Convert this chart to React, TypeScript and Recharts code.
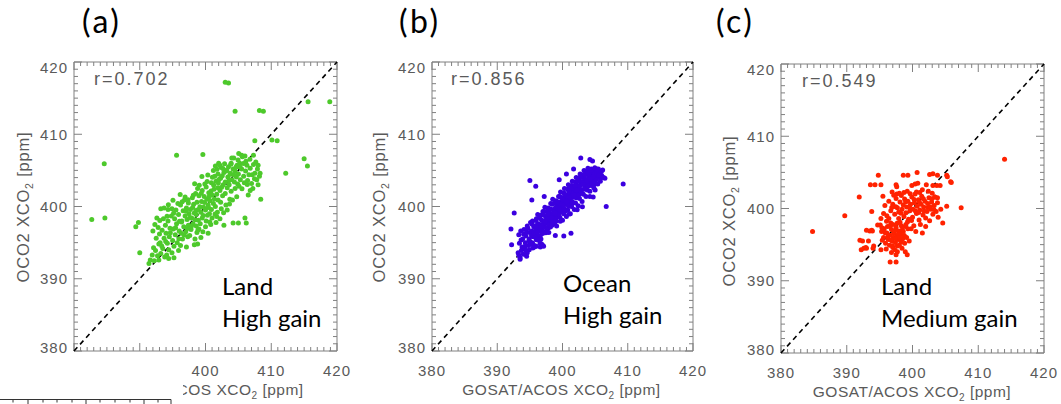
import React from 'react';
import { ScatterChart, Scatter, XAxis, YAxis, ReferenceLine, ReferenceArea } from 'recharts';

type Pt = [number, number];

// (a) Land, high gain  -- [GOSAT/ACOS, OCO2]
const landHigh: Pt[] = [
  [382.7, 398.2], [384.7, 398.4], [384.6, 405.9], [395.6, 407.1], [399.6, 407.2], [403.0, 417.2], [403.5, 417.1],
  [404.5, 413.2], [408.2, 413.3], [408.8, 413.2], [415.6, 414.5], [418.9, 414.5], [407.5, 409.1], [410.1, 409.2],
  [410.9, 409.1], [415.0, 406.6], [415.5, 405.6], [412.2, 404.6], [408.4, 401.0], [404.2, 397.7], [405.0, 397.7],
  [406.0, 398.4], [406.2, 397.7], [406.5, 401.6], [389.4, 397.2], [389.8, 397.8], [390.0, 393.6], [398.8, 394.8],
  [391.4, 392.1],
  [391.6, 392.6], [391.9, 393.3], [392.2, 392.5], [392.4, 393.9], [392.7, 393.2], [392.1, 394.3], [392.9, 394.8],
  [392.5, 395.6], [392.0, 396.6], [392.3, 397.5], [392.8, 397.1], [392.6, 398.4], [393.0, 396.2], [392.9, 392.6],
  [393.2, 393.5], [393.5, 394.2], [393.1, 395.0], [393.7, 395.6], [393.4, 396.7], [393.9, 397.4], [393.6, 398.3],
  [393.2, 399.7], [393.7, 399.8], [394.3, 399.6], [394.9, 399.7], [394.1, 393.3], [394.4, 394.0], [393.8, 393.0],
  [394.2, 394.9], [394.5, 395.8], [394.0, 396.3], [394.6, 397.0], [394.3, 398.0], [394.8, 398.7], [394.4, 392.8],
  [394.9, 393.6], [395.2, 394.5], [395.0, 395.3], [395.4, 396.1], [395.7, 395.0], [395.1, 396.9], [395.6, 397.6],
  [395.3, 398.3], [395.9, 398.9], [395.5, 399.5], [395.8, 400.4], [395.9, 393.9], [396.0, 396.6], [395.2, 392.9],
  [396.2, 394.6], [396.5, 395.5], [396.3, 396.3], [396.7, 397.2], [396.4, 398.0], [396.9, 398.7], [396.6, 399.4],
  [396.2, 400.2], [396.8, 400.9], [397.1, 394.4], [397.3, 395.8], [397.0, 396.5], [397.4, 397.4], [397.2, 398.2],
  [397.5, 399.0], [397.1, 399.8], [397.4, 400.5], [396.9, 401.3], [397.6, 396.0],
  [397.8, 396.8], [398.1, 397.6], [397.9, 398.4], [398.3, 399.1], [397.7, 399.6], [398.2, 400.3], [398.0, 401.2],
  [398.5, 401.8], [398.4, 395.5], [398.7, 396.4], [398.6, 397.3], [398.9, 398.1], [398.6, 398.9], [398.9, 399.6],
  [398.7, 400.6], [399.0, 401.5], [398.8, 402.5], [398.3, 394.7], [399.0, 396.9],
  [399.3, 395.7], [399.2, 397.6], [399.5, 398.4], [399.3, 399.2], [399.7, 399.9], [399.4, 400.7], [399.8, 401.4],
  [399.5, 402.2], [399.9, 403.1], [399.6, 396.5], [400.0, 397.2], [400.1, 398.0], [400.3, 398.8], [400.0, 399.5],
  [400.4, 400.2], [400.2, 401.0], [400.5, 401.9], [400.1, 402.7], [400.4, 396.3], [400.6, 399.0],
  [400.8, 397.5], [401.0, 398.4], [400.9, 399.6], [401.2, 400.4], [400.7, 400.8], [401.0, 401.6], [401.3, 402.4],
  [400.9, 403.3], [401.4, 404.2], [401.2, 405.0], [401.6, 397.8], [401.8, 399.2], [401.5, 400.0], [401.9, 400.9],
  [401.7, 401.7], [401.9, 402.6], [401.6, 403.5], [401.9, 404.5], [401.5, 405.6], [402.0, 406.0], [401.7, 398.6],
  [402.2, 398.3], [402.4, 399.7], [402.3, 400.6], [402.6, 401.5], [402.2, 402.2], [402.7, 403.0], [402.3, 403.9],
  [402.8, 404.7], [402.4, 405.4], [402.9, 405.9], [403.1, 400.2], [403.0, 401.8], [403.3, 402.6], [403.0, 403.4],
  [403.4, 404.1], [403.1, 404.9], [403.5, 405.5], [403.3, 399.5], [402.8, 397.4],
  [403.7, 401.0], [403.9, 402.1], [403.6, 403.0], [404.0, 403.7], [403.8, 404.6], [404.2, 405.2], [403.9, 406.0],
  [404.3, 406.7], [404.5, 402.5], [404.4, 403.4], [404.7, 404.1], [404.5, 404.9], [404.8, 405.7], [404.1, 400.9],
  [404.9, 403.1], [404.0, 406.7],
  [405.1, 402.8], [405.3, 403.7], [405.0, 404.5], [405.5, 405.2], [405.2, 406.0], [405.6, 406.9], [405.8, 404.2],
  [405.9, 403.3], [406.1, 404.9], [406.3, 405.7], [406.0, 407.0], [406.4, 403.6], [405.5, 407.1], [406.6, 404.4],
  [406.8, 405.3], [407.0, 403.2], [407.1, 404.4], [407.3, 405.8], [407.5, 404.6], [407.3, 407.1], [407.8, 403.7],
  [407.9, 405.2], [408.0, 405.7], [408.2, 404.2], [408.3, 404.6], [408.0, 403.0], [406.8, 402.2], [407.2, 402.5],
  [396.35, 397.85], [397.65, 398.45], [398.45, 398.15], [399.15, 399.95], [399.85, 400.55], [400.55, 401.35],
  [401.25, 402.95], [401.95, 403.25], [402.55, 404.25], [403.25, 405.05], [404.65, 405.45], [403.75, 404.45],
  [402.05, 403.75], [400.85, 402.15], [399.35, 401.85], [398.05, 399.85], [397.05, 399.35], [396.05, 397.95],
  [395.45, 397.05], [394.65, 396.35], [393.95, 395.15], [393.35, 394.55], [396.75, 396.05], [397.85, 397.25],
  [398.55, 399.45], [399.65, 398.75], [400.45, 399.85], [401.35, 401.05], [402.45, 402.65], [403.55, 403.55],
  [404.35, 404.35], [405.25, 405.45], [406.15, 406.25], [405.75, 405.95], [404.95, 406.45], [403.85, 405.85],
  [402.65, 405.25], [401.05, 404.05], [400.25, 403.45], [399.05, 402.95], [398.15, 401.55], [397.35, 400.95],
  [396.45, 400.65], [395.15, 399.05], [394.15, 398.65], [393.05, 398.05], [395.95, 395.55], [397.25, 396.95],
  [398.85, 396.75], [400.65, 397.85], [401.45, 398.95], [402.75, 399.15], [403.65, 400.35], [404.75, 401.35],
  [405.55, 402.45], [406.35, 403.05], [407.45, 403.85], [407.65, 406.15], [406.75, 406.55], [405.05, 407.35],
  [401.75, 405.15], [402.15, 405.75], [400.35, 404.35], [399.45, 404.15], [398.35, 403.15], [396.15, 401.65],
  [395.05, 400.85], [394.35, 400.25],
];

// (b) Ocean, high gain
const oceanHigh: Pt[] = [
  [409.3, 403.1], [406.7, 400.0], [395.0, 403.6], [395.9, 402.8], [395.3, 400.9], [392.6, 399.1], [392.1, 396.9],
  [392.2, 394.7], [402.8, 406.7], [404.2, 406.5], [404.6, 406.3], [399.5, 403.7], [404.2, 401.4], [404.7, 401.3],
  [401.3, 396.3], [400.2, 395.9], [395.7, 394.4], [393.5, 392.7], [394.5, 393.1], [396.6, 394.4], [397.0, 394.6],
  [397.2, 401.4], [400.6, 404.5], [401.7, 405.2], [405.0, 402.3], [404.9, 403.1], [406.0, 404.0], [406.5, 403.9],
  [398.9, 396.0], [396.7, 396.7], [396.8, 394.8], [397.1, 394.5],
  [393.2, 393.6], [393.4, 394.9], [393.3, 396.1], [393.7, 393.9], [393.9, 395.5], [393.6, 396.6], [393.8, 394.4],
  [394.2, 394.3], [394.4, 395.9], [394.1, 396.8], [394.3, 395.0], [394.6, 397.3], [393.5, 392.9], [393.3, 393.3],
  [394.0, 393.4], [394.6, 393.6], [396.0, 394.5],
  [394.8, 394.6], [394.9, 395.5], [395.0, 396.4], [394.7, 397.0], [395.1, 397.8], [394.9, 394.0],
  [395.4, 395.0], [395.5, 395.8], [395.3, 396.6], [395.6, 397.2], [395.4, 398.0], [395.7, 394.6], [395.8, 396.2],
  [396.0, 395.4], [396.1, 396.1], [395.9, 396.9], [396.2, 397.6], [396.0, 398.3], [396.3, 395.9], [396.4, 397.1],
  [396.2, 398.9], [396.6, 396.0], [396.7, 396.7], [396.5, 397.5], [396.8, 398.1], [396.6, 398.8], [396.9, 397.0],
  [397.0, 399.3], [396.7, 395.5], [397.2, 396.5], [397.3, 397.2], [397.1, 398.0], [397.4, 398.6], [397.2, 399.3],
  [397.5, 397.7], [397.6, 396.8], [397.3, 399.9], [397.8, 397.0], [397.9, 397.7], [397.7, 398.5], [398.0, 399.1],
  [397.8, 399.8], [398.1, 398.2], [398.2, 400.4], [397.9, 396.4], [398.4, 397.4], [398.5, 398.2], [398.3, 399.0],
  [398.6, 399.6], [398.4, 400.3], [398.7, 398.7], [398.8, 397.6], [398.5, 401.0], [399.0, 398.0], [399.1, 398.7],
  [398.9, 399.5], [399.2, 400.1], [399.0, 400.8], [399.3, 399.2], [399.4, 401.4], [399.1, 397.3], [399.6, 398.5],
  [399.7, 399.2], [399.5, 400.1], [399.8, 400.7], [399.6, 401.4], [399.9, 399.8], [400.0, 398.1], [399.7, 402.0],
  [400.2, 399.0], [400.3, 399.7], [400.1, 400.6], [400.4, 401.2], [400.2, 401.9], [400.5, 400.3], [400.6, 398.6],
  [400.3, 402.5], [400.8, 399.5], [400.9, 400.2], [400.7, 401.1], [401.0, 401.7], [400.8, 402.4], [401.1, 400.8],
  [401.2, 399.0], [400.9, 403.0], [401.4, 400.0], [401.5, 400.7], [401.3, 401.6], [401.6, 402.2], [401.4, 402.9],
  [401.7, 401.3], [401.8, 399.6], [401.5, 403.5], [402.0, 400.5], [402.1, 401.2], [401.9, 402.1], [402.2, 402.7],
  [402.0, 403.4], [402.3, 401.8], [402.4, 400.1], [402.1, 404.0], [402.6, 401.1], [402.7, 401.8], [402.5, 402.7],
  [402.8, 403.2], [402.6, 403.9], [402.9, 402.3], [403.0, 400.7], [402.7, 404.5], [403.2, 401.7], [403.3, 402.4],
  [403.1, 403.2], [403.4, 403.7], [403.2, 404.4], [403.5, 402.9], [403.6, 401.4], [403.3, 405.0], [403.8, 402.3],
  [403.9, 403.0], [403.7, 403.7], [404.0, 404.2], [403.8, 404.9], [404.1, 403.4], [404.2, 402.1], [403.9, 405.3],
  [404.4, 402.9], [404.5, 403.6], [404.3, 404.2], [404.6, 404.7], [404.4, 405.2], [404.7, 403.9], [404.8, 402.6],
  [405.0, 403.5], [405.1, 404.2], [404.9, 404.8], [405.2, 405.1], [405.3, 404.0], [405.4, 403.1], [405.6, 404.0],
  [405.7, 404.7], [405.5, 405.2], [405.8, 403.5], [406.0, 404.3], [406.3, 404.0],
  [394.35, 394.65], [394.85, 395.25], [395.25, 395.95], [395.65, 396.35], [395.95, 397.35], [396.45, 396.65],
  [396.85, 397.45], [397.15, 397.75], [397.55, 398.25], [397.85, 398.65], [398.25, 398.75], [398.65, 399.25],
  [398.95, 399.85], [399.35, 399.75], [399.75, 400.35], [400.05, 400.95], [400.45, 400.75], [400.75, 401.45],
  [401.15, 401.95], [401.55, 401.85], [401.85, 402.45], [402.25, 402.95], [402.55, 402.35], [402.95, 403.45],
  [403.35, 403.95], [403.65, 403.25], [404.05, 404.55], [404.45, 404.05], [404.85, 404.45], [405.25, 404.65],
  [395.15, 394.85], [395.85, 395.75], [396.35, 395.35], [396.95, 396.25], [397.45, 396.35], [397.95, 397.45],
  [398.45, 397.85], [398.95, 398.35], [399.45, 398.95], [399.95, 399.45], [400.45, 399.35], [400.95, 400.05],
  [401.45, 400.45], [401.95, 401.35], [402.45, 401.55], [402.85, 402.05], [403.45, 402.65], [403.95, 402.85],
  [404.55, 403.25], [405.15, 403.75], [395.35, 397.55], [395.95, 398.05], [396.55, 398.45], [397.05, 398.85],
  [397.65, 399.35], [398.15, 399.65], [398.75, 400.45], [399.25, 400.65], [399.85, 401.25], [400.35, 401.65],
  [400.95, 402.05], [401.35, 402.55], [401.95, 402.95], [402.35, 403.55], [402.85, 404.15], [403.45, 404.45],
  [403.95, 404.75], [404.35, 405.05], [404.95, 405.35], [405.45, 405.05], [396.15, 396.45], [396.75, 397.25],
  [397.35, 397.95], [397.75, 398.95], [398.35, 398.45], [398.85, 399.05], [399.55, 399.55], [400.15, 400.15],
  [400.65, 400.65], [401.25, 401.25], [401.75, 401.55], [402.15, 402.25], [402.65, 402.85], [403.15, 403.05],
  [403.75, 403.65], [404.25, 403.85], [404.75, 404.15], [405.55, 404.35], [405.95, 404.85], [406.15, 405.05],
  [393.95, 394.25], [394.45, 393.85], [393.65, 395.35], [394.05, 396.15], [394.55, 396.45], [395.45, 394.25],
  [396.55, 394.95], [398.15, 397.15], [399.65, 397.95], [401.05, 398.95], [402.25, 399.55], [403.05, 399.95],
];

// (c) Land, medium gain
const landMedium: Pt[] = [
  [384.8, 396.8], [389.7, 399.0], [391.9, 401.6], [394.8, 404.6], [393.6, 403.3], [394.3, 403.3], [395.2, 403.3],
  [397.5, 403.3], [397.6, 403.0], [398.6, 404.6], [399.3, 404.6], [400.7, 405.0], [402.6, 404.7], [403.1, 404.8],
  [403.8, 404.6], [405.2, 404.6], [405.3, 404.4], [405.8, 403.7], [405.9, 403.6], [403.1, 403.2], [403.7, 403.2],
  [404.2, 403.2], [399.9, 403.2], [400.4, 403.4], [397.6, 402.0], [398.7, 402.2], [400.6, 402.3], [401.1, 402.2],
  [403.4, 401.6], [403.8, 401.5], [405.2, 400.3], [404.6, 398.0], [407.4, 400.1], [414.0, 406.8], [393.8, 399.6],
  [393.5, 396.9], [393.9, 396.9], [394.7, 397.7], [395.1, 397.7], [392.4, 395.5], [393.3, 395.5], [392.6, 394.5],
  [393.0, 394.5], [395.2, 394.3], [394.1, 394.8], [396.6, 392.6], [397.5, 392.6], [397.7, 394.0], [398.9, 394.0],
  [399.2, 393.6], [392.0, 395.6], [392.2, 394.3], [392.9, 394.6], [394.0, 394.5], [393.0, 397.0], [393.8, 397.0],
  [395.6, 396.0], [395.9, 395.2], [396.1, 396.6], [396.3, 395.7], [396.5, 394.9], [396.6, 396.3], [396.8, 397.1],
  [396.9, 395.5], [397.1, 396.0], [397.2, 396.8], [397.4, 395.3], [397.5, 397.4], [397.6, 396.2], [397.8, 395.7],
  [397.9, 396.9], [398.0, 394.9], [398.2, 396.4], [398.3, 397.6], [398.5, 395.8], [398.6, 396.8], [398.8, 395.2],
  [396.2, 397.5], [396.7, 398.0], [397.0, 394.6], [397.3, 394.3], [397.7, 394.8], [398.1, 398.1], [398.4, 394.5],
  [398.9, 397.5], [399.1, 396.0], [396.0, 394.4], [395.7, 397.2], [396.4, 398.6], [395.4, 395.6], [395.3, 396.8],
  [397.0, 397.8], [397.9, 398.6], [398.7, 398.9], [399.3, 397.2], [399.5, 395.5], [396.8, 393.9], [397.5, 393.6],
  [395.2, 398.6], [395.6, 399.3], [395.8, 400.4], [396.1, 399.0], [396.4, 401.0], [396.7, 399.7], [397.0, 400.6],
  [397.3, 399.2], [397.5, 401.4], [397.7, 400.1], [397.9, 399.5], [398.1, 400.9], [398.3, 401.8], [398.4, 399.9],
  [398.6, 400.5], [398.8, 401.3], [399.0, 399.4], [399.1, 400.2], [399.3, 401.0], [399.4, 398.5], [399.6, 399.7],
  [399.7, 400.6], [399.9, 401.6], [400.0, 398.8], [400.1, 399.9], [400.3, 400.8], [400.4, 402.0], [400.6, 399.3],
  [400.7, 400.3], [400.9, 401.2], [401.0, 398.4], [401.1, 399.8], [401.3, 400.6], [401.4, 401.7], [401.6, 399.1],
  [401.7, 400.2], [401.9, 401.0], [402.0, 398.7], [402.2, 399.6], [402.3, 400.7], [402.5, 401.5], [402.6, 398.3],
  [402.8, 399.9], [402.9, 400.9], [403.1, 399.2], [403.3, 400.4], [403.4, 401.6], [403.6, 399.6], [403.8, 400.8],
  [402.4, 402.4], [401.5, 402.6], [403.0, 402.1], [399.2, 402.4], [398.0, 402.1], [400.2, 397.6], [401.2, 397.8],
  [399.8, 397.2], [402.0, 397.5], [403.9, 398.8], [404.3, 399.9], [395.5, 401.7], [396.9, 402.3], [400.8, 403.5],
  [402.1, 403.3], [399.0, 397.8], [400.5, 396.8], [401.5, 396.6],
  [396.25, 396.05], [396.75, 395.65], [397.15, 396.55], [397.45, 395.85], [397.85, 396.45], [398.25, 395.35],
  [398.45, 397.05], [397.65, 397.95], [396.55, 397.55], [396.95, 394.85], [397.35, 396.95], [398.05, 395.95],
  [398.75, 396.25], [399.25, 398.15], [399.85, 398.35], [400.45, 399.65], [401.05, 400.85], [401.75, 399.65],
  [402.35, 400.15], [402.95, 401.35], [400.25, 401.25], [399.55, 400.25], [398.95, 400.95], [398.25, 399.35],
  [397.45, 400.25], [396.85, 400.15], [400.95, 399.45], [401.65, 401.35], [402.65, 400.25], [403.25, 399.85],
  [399.65, 402.05], [397.15, 401.85], [396.05, 398.25], [395.85, 396.65], [395.35, 397.35],
];

const TICKS = Array.from({ length: 41 }, (_, i) => 380 + i);
const LO = 380;
const HI = 420;
const DOMAIN: [number, number] = [LO, HI];

const AXIS = '#808080';
const TXT = '#5a5a5a';
const IDL = '"Liberation Sans", Arial, sans-serif';
const OFFICE = 'Lato, "Open Sans", sans-serif';

const isMajor = (v: number) => v % 10 === 0;

const BottomLabel = (p: any) => {
  const v = p.payload.value;
  if (!isMajor(v)) return <g />;
  return (
    <text x={p.x} y={p.y + 24.5} textAnchor="middle" fill={TXT} fontSize={15} fontFamily={IDL} letterSpacing={1}>
      {v}
    </text>
  );
};
const LeftLabel = (p: any) => {
  const v = p.payload.value;
  if (!isMajor(v)) return <g />;
  // end labels sit a little inside the frame, as in the original plot
  const shift = v === HI ? 5.5 : v === LO ? -4 : 0;
  return (
    <text x={p.x - 6} y={p.y + 5.5 + shift} textAnchor="end" fill={TXT} fontSize={15} fontFamily={IDL} letterSpacing={1}>
      {v}
    </text>
  );
};

type PanelProps = {
  pts: Pt[];
  color: string;
  left: number;
  width: number;
  top: number;
  right: number;
  yw: number;
  xh: number;
};

const Panel = ({ pts, color, left, width, top, right, yw, xh }: PanelProps) => {
  const rows = pts.map(([x, y]) => ({ x, y }));
  // inward tick length, expressed in data units for this panel's plot size
  const ux = (HI - LO) / (width - yw - right);
  const uy = (HI - LO) / (404 - top - xh);
  const len = (v: number) => (isMajor(v) ? 8 : 4);
  const tickSegs: { x: number; y: number }[][] = [];
  TICKS.forEach((v) => {
    tickSegs.push([{ x: v, y: LO }, { x: v, y: LO + len(v) * uy }]);
    tickSegs.push([{ x: v, y: HI }, { x: v, y: HI - len(v) * uy }]);
    tickSegs.push([{ x: LO, y: v }, { x: LO + len(v) * ux, y: v }]);
    tickSegs.push([{ x: HI, y: v }, { x: HI - len(v) * ux, y: v }]);
  });
  return (
    <div style={{ position: 'absolute', left, top: 0, width, height: 404 }}>
      <ScatterChart width={width} height={404} margin={{ top, right, left: 0, bottom: 0 }}>
        <XAxis xAxisId="b" orientation="bottom" type="number" dataKey="x" domain={DOMAIN} ticks={TICKS} interval={0}
          height={xh} tickSize={0} tickMargin={0} tickLine={false} axisLine={false} tick={BottomLabel} allowDataOverflow />
        <YAxis yAxisId="l" orientation="left" type="number" dataKey="y" domain={DOMAIN} ticks={TICKS} interval={0}
          width={yw} tickSize={0} tickMargin={0} tickLine={false} axisLine={false} tick={LeftLabel} allowDataOverflow />
        <ReferenceArea xAxisId="b" yAxisId="l" x1={LO} x2={HI} y1={LO} y2={HI}
          fill="none" fillOpacity={0} stroke={AXIS} strokeWidth={1} ifOverflow="visible" />
        {tickSegs.map((seg, i) => (
          <ReferenceLine key={i} xAxisId="b" yAxisId="l" segment={seg} stroke={AXIS} strokeWidth={1} ifOverflow="visible" />
        ))}
        <Scatter xAxisId="b" yAxisId="l" data={rows} isAnimationActive={false}
          shape={(s: any) => <circle cx={s.cx} cy={s.cy} r={2.5} fill={color} />} />
        <ReferenceLine xAxisId="b" yAxisId="l" segment={[{ x: LO, y: LO }, { x: HI, y: HI }]}
          stroke="#000" strokeWidth={1.6} strokeDasharray="5 4" />
      </ScatterChart>
    </div>
  );
};

const XTitle = ({ x, y }: { x: number; y: number }) => (
  <text x={x} y={y} textAnchor="middle" fill={TXT} fontSize={15.5} fontFamily={IDL} letterSpacing={0.5}>
    GOSAT/ACOS XCO<tspan fontSize={10} dy={4}>2</tspan><tspan dy={-4}> [ppm]</tspan>
  </text>
);
const YTitle = ({ x, y }: { x: number; y: number }) => (
  <text x={x} y={y} transform={`rotate(-90 ${x} ${y})`} textAnchor="middle" fill={TXT} fontSize={16.5} fontFamily={IDL} letterSpacing={0.8}>
    OCO2 XCO<tspan fontSize={10.5} dy={4}>2</tspan><tspan dy={-4}> [ppm]</tspan>
  </text>
);
const Note = ({ x, y, lines }: { x: number; y: number; lines: string[] }) => (
  <text x={x} y={y} fill="#000" fontSize={24} fontFamily={OFFICE}>
    {lines.map((l, i) => (
      <tspan key={i} x={x} dy={i === 0 ? 0 : 32}>{l}</tspan>
    ))}
  </text>
);

const rulerTicks = [13, 28, 43, 57, 72, 86, 100, 115, 130, 144, 158];

export default function App() {
  return (
    <div style={{ position: 'absolute', left: 0, top: 0, width: 1061, height: 404, background: '#fff', overflow: 'hidden' }}>
      <Panel pts={landHigh} color="#4dc92b" left={0} width={360} top={62} right={23} yw={74} xh={53} />
      <Panel pts={oceanHigh} color="#3b00e0" left={360} width={360} top={62} right={27} yw={72} xh={53} />
      <Panel pts={landMedium} color="#ff2200" left={700} width={361} top={64} right={17} yw={81} xh={51} />
      <svg width={1061} height={404} style={{ position: 'absolute', left: 0, top: 0, pointerEvents: 'none' }}>
        <text x={82} y={33} fontSize={32} fontFamily={OFFICE} fill="#000" letterSpacing={2.5}>(a)</text>
        <text x={399} y={33} fontSize={32} fontFamily={OFFICE} fill="#000" letterSpacing={2.5}>(b)</text>
        <text x={716} y={33} fontSize={32} fontFamily={OFFICE} fill="#000" letterSpacing={2.5}>(c)</text>

        <text x={94} y={84.5} fontSize={18} fontFamily={IDL} fill={TXT} letterSpacing={2}>r=0.702</text>
        <text x={451} y={84.5} fontSize={18} fontFamily={IDL} fill={TXT} letterSpacing={2}>r=0.856</text>
        <text x={802} y={86.5} fontSize={18} fontFamily={IDL} fill={TXT} letterSpacing={2}>r=0.549</text>

        <Note x={222} y={295} lines={['Land', 'High gain']} />
        <Note x={563} y={292} lines={['Ocean', 'High gain']} />
        <Note x={881} y={295} lines={['Land', 'Medium gain']} />

        <YTitle x={28.5} y={207} />
        <YTitle x={384.5} y={207} />
        <YTitle x={734.5} y={211} />
        <XTitle x={204.5} y={395} />
        <XTitle x={561.5} y={395} />
        <XTitle x={912} y={397} />

        {/* panel (a) is partly covered by a fragment of another figure */}
        <rect x={0} y={355} width={183} height={49} fill="#fff" />
        <polyline points="0,399.5 171,399.5 171,404" fill="none" stroke="#333" />
        {rulerTicks.map((t, i) => (
          <line key={i} x1={t} x2={t} y1={399.5} y2={i % 4 === 1 ? 404 : 402.5} stroke="#333" />
        ))}
      </svg>
    </div>
  );
}
